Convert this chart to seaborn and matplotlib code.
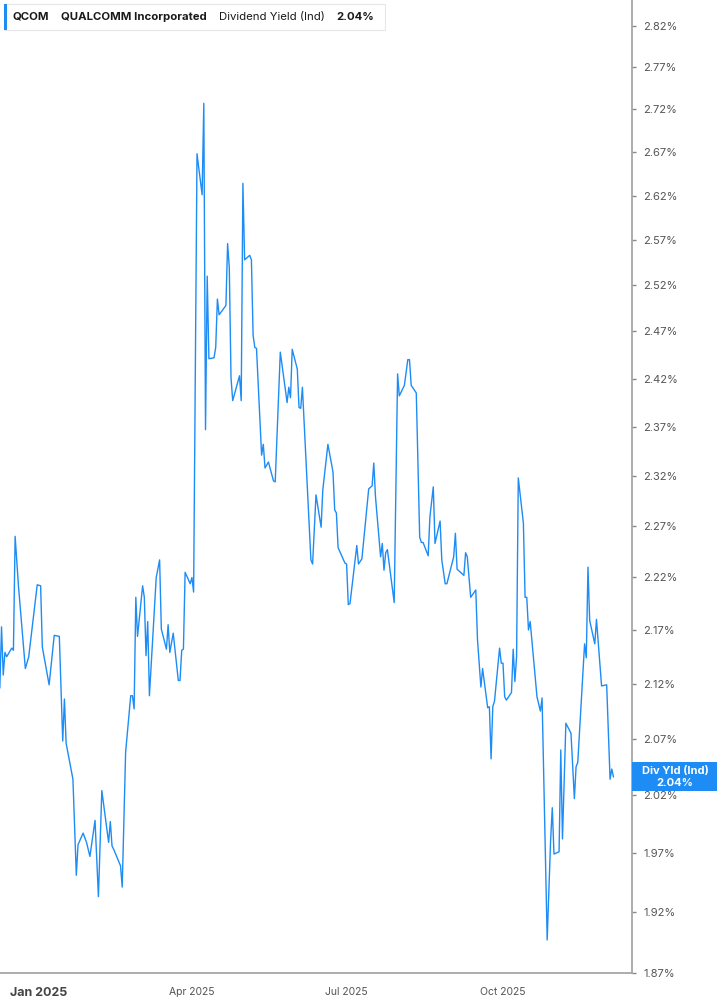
"""
QCOM dividend yield chart - recreated with seaborn / matplotlib.
"""

import matplotlib
matplotlib.use("Agg")
import matplotlib.pyplot as plt
import matplotlib.ticker as mticker
from matplotlib.patches import Rectangle
import pandas as pd
import seaborn as sns

# ---- data ----
DATES = [
    "2024-12-09", "2024-12-10", "2024-12-11", "2024-12-12", "2024-12-13",
    "2024-12-16", "2024-12-17", "2024-12-18", "2024-12-20", "2024-12-24",
    "2024-12-26", "2024-12-31", "2025-01-02", "2025-01-03", "2025-01-07",
    "2025-01-10", "2025-01-13", "2025-01-15", "2025-01-16", "2025-01-17",
    "2025-01-21", "2025-01-23", "2025-01-24", "2025-01-27", "2025-01-29",
    "2025-01-31", "2025-02-03", "2025-02-05", "2025-02-07", "2025-02-11",
    "2025-02-12", "2025-02-13", "2025-02-14", "2025-02-18", "2025-02-19",
    "2025-02-21", "2025-02-24", "2025-02-25", "2025-02-26", "2025-02-27",
    "2025-02-28", "2025-03-03", "2025-03-04", "2025-03-05", "2025-03-06",
    "2025-03-07", "2025-03-11", "2025-03-13", "2025-03-14", "2025-03-17",
    "2025-03-18", "2025-03-19", "2025-03-21", "2025-03-24", "2025-03-25",
    "2025-03-26", "2025-03-27", "2025-03-28", "2025-03-31", "2025-04-01",
    "2025-04-02", "2025-04-04", "2025-04-07", "2025-04-08", "2025-04-09",
    "2025-04-10", "2025-04-11", "2025-04-14", "2025-04-15", "2025-04-16",
    "2025-04-17", "2025-04-21", "2025-04-22", "2025-04-23", "2025-04-24",
    "2025-04-25", "2025-04-29", "2025-04-30", "2025-05-01", "2025-05-02",
    "2025-05-05", "2025-05-06", "2025-05-07", "2025-05-08", "2025-05-09",
    "2025-05-12", "2025-05-13", "2025-05-14", "2025-05-16", "2025-05-19",
    "2025-05-20", "2025-05-23", "2025-05-27", "2025-05-28", "2025-05-29",
    "2025-05-30", "2025-06-02", "2025-06-03", "2025-06-04", "2025-06-05",
    "2025-06-10", "2025-06-11", "2025-06-13", "2025-06-16", "2025-06-17",
    "2025-06-20", "2025-06-23", "2025-06-24", "2025-06-25", "2025-06-26",
    "2025-06-30", "2025-07-01", "2025-07-02", "2025-07-03", "2025-07-07",
    "2025-07-08", "2025-07-10", "2025-07-14", "2025-07-16", "2025-07-17",
    "2025-07-18", "2025-07-21", "2025-07-22", "2025-07-23", "2025-07-24",
    "2025-07-25", "2025-07-29", "2025-07-31", "2025-08-01", "2025-08-04",
    "2025-08-06", "2025-08-07", "2025-08-08", "2025-08-11", "2025-08-13",
    "2025-08-14", "2025-08-15", "2025-08-18", "2025-08-19", "2025-08-21",
    "2025-08-22", "2025-08-25", "2025-08-26", "2025-08-28", "2025-08-29",
    "2025-09-02", "2025-09-03", "2025-09-04", "2025-09-08", "2025-09-09",
    "2025-09-10", "2025-09-12", "2025-09-15", "2025-09-16", "2025-09-18",
    "2025-09-19", "2025-09-22", "2025-09-23", "2025-09-24", "2025-09-25",
    "2025-09-26", "2025-09-29", "2025-09-30", "2025-10-01", "2025-10-02",
    "2025-10-03", "2025-10-06", "2025-10-07", "2025-10-08", "2025-10-09",
    "2025-10-10", "2025-10-13", "2025-10-14", "2025-10-15", "2025-10-16",
    "2025-10-17", "2025-10-21", "2025-10-23", "2025-10-24", "2025-10-27",
    "2025-10-29", "2025-10-30", "2025-10-31", "2025-11-03", "2025-11-04",
    "2025-11-05", "2025-11-07", "2025-11-10", "2025-11-12", "2025-11-13",
    "2025-11-14", "2025-11-18", "2025-11-19", "2025-11-20", "2025-11-21",
    "2025-11-24", "2025-11-25", "2025-11-28", "2025-12-01", "2025-12-03",
    "2025-12-04", "2025-12-05",
]

YIELD_PCT = [
    2.116, 2.173, 2.128, 2.149, 2.145,
    2.153, 2.151, 2.260, 2.211, 2.134,
    2.145, 2.213, 2.212, 2.154, 2.119,
    2.165, 2.164, 2.068, 2.106, 2.066,
    2.034, 1.951, 1.977, 1.987, 1.979,
    1.967, 1.998, 1.933, 2.024, 1.979,
    1.997, 1.976, 1.973, 1.959, 1.941,
    2.058, 2.109, 2.109, 2.097, 2.201,
    2.164, 2.212, 2.201, 2.146, 2.178,
    2.109, 2.220, 2.237, 2.171, 2.152,
    2.175, 2.149, 2.167, 2.123, 2.123,
    2.151, 2.152, 2.225, 2.214, 2.220,
    2.206, 2.668, 2.621, 2.727, 2.367,
    2.530, 2.441, 2.442, 2.453, 2.505,
    2.488, 2.498, 2.566, 2.539, 2.421,
    2.397, 2.423, 2.397, 2.634, 2.548,
    2.553, 2.548, 2.466, 2.453, 2.452,
    2.341, 2.352, 2.328, 2.334, 2.315,
    2.314, 2.448, 2.395, 2.411, 2.400,
    2.451, 2.430, 2.390, 2.389, 2.411,
    2.237, 2.233, 2.301, 2.269, 2.306,
    2.352, 2.324, 2.286, 2.283, 2.249,
    2.234, 2.233, 2.194, 2.195, 2.251,
    2.233, 2.238, 2.307, 2.310, 2.333,
    2.299, 2.240, 2.253, 2.227, 2.244,
    2.247, 2.196, 2.425, 2.402, 2.413,
    2.440, 2.440, 2.413, 2.405, 2.259,
    2.254, 2.254, 2.241, 2.279, 2.309,
    2.253, 2.275, 2.237, 2.214, 2.214,
    2.240, 2.263, 2.228, 2.222, 2.244,
    2.240, 2.201, 2.208, 2.161, 2.117,
    2.134, 2.098, 2.099, 2.052, 2.099,
    2.104, 2.153, 2.139, 2.139, 2.108,
    2.105, 2.112, 2.152, 2.122, 2.145,
    2.318, 2.273, 2.201, 2.201, 2.170,
    2.178, 2.108, 2.095, 2.107, 1.897,
    1.980, 2.009, 1.969, 1.971, 2.060,
    1.982, 2.084, 2.075, 2.017, 2.045,
    2.049, 2.157, 2.144, 2.230, 2.179,
    2.157, 2.180, 2.118, 2.119, 2.034,
    2.043, 2.036,
]

Y_TICKS = [1.87, 1.92, 1.97, 2.02, 2.07, 2.12, 2.17, 2.22, 2.27, 2.32,
           2.37, 2.42, 2.47, 2.52, 2.57, 2.62, 2.67, 2.72, 2.77, 2.82]
X_TICKS = ["2025-01-01", "2025-04-01", "2025-07-01", "2025-10-01"]
X_LABELS = ["Jan 2025", "Apr 2025", "Jul 2025", "Oct 2025"]

TICKER = "QCOM"
COMPANY = "QUALCOMM Incorporated"
METRIC = "Dividend Yield (Ind)"
METRIC_SHORT = "Div Yld (Ind)"

# ---- style ----
BLUE = "#1e8cf5"
AXIS_GREY = "#a6a6a6"
LABEL_GREY = "#555555"
W, H = 717, 1005

sns.set_style("white")
plt.rcParams["font.family"] = ["Inter", "DejaVu Sans"]


def fx(px):
    return px / W


def fy(py):
    # pixel from top -> figure fraction
    return 1 - py / H


fig = plt.figure(figsize=(W / 100, H / 100), dpi=100)
ax = fig.add_axes([0, 32 / H, 632 / W, 973 / H])

df = pd.DataFrame({"date": pd.to_datetime(DATES), "yield": YIELD_PCT})
sns.lineplot(data=df, x="date", y="yield", ax=ax, color=BLUE,
             linewidth=1.0, estimator=None)

# log price-style y axis on the right
ax.set_yscale("log")
ax.set_ylim(1.87, 2.852)
ax.yaxis.set_major_locator(mticker.FixedLocator(Y_TICKS))
ax.yaxis.set_minor_locator(mticker.NullLocator())
ax.yaxis.set_major_formatter(mticker.FuncFormatter(lambda v, _: f"{v:.2f}%"))
ax.yaxis.tick_right()
ax.tick_params(axis="y", which="major", direction="out", length=3, width=1,
               color="#888888", labelsize=8, labelcolor=LABEL_GREY, pad=5)

jan1 = pd.Timestamp("2025-01-01")
ax.set_xlim(jan1 - pd.Timedelta(days=22.9), jan1 + pd.Timedelta(days=348.9))
ax.set_xticks(pd.to_datetime(X_TICKS))
ax.set_xticklabels(X_LABELS)
ax.tick_params(axis="x", direction="out", length=4, width=1, color=AXIS_GREY,
               labelsize=7.5, labelcolor=LABEL_GREY, pad=6)
first = ax.get_xticklabels()[0]
first.set_fontweight("bold")
first.set_fontsize(9)
first.set_color("#444444")

ax.set_xlabel("")
ax.set_ylabel("")
for side in ["left", "top"]:
    ax.spines[side].set_visible(False)
for side in ["right", "bottom"]:
    ax.spines[side].set_color(AXIS_GREY)
    ax.spines[side].set_linewidth(1.3)

# ---- header legend box ----
fig.add_artist(Rectangle((fx(4), fy(30)), fx(381), 26 / H, transform=fig.transFigure,
                         facecolor="white", edgecolor="#e6e6e6", linewidth=0.8))
fig.add_artist(Rectangle((fx(4), fy(30)), fx(2.5), 26 / H, transform=fig.transFigure,
                         facecolor=BLUE, edgecolor="none"))
last_txt = f"{YIELD_PCT[-1]:.2f}%"
head_y = fy(17)
head_size = 8.2
fig.text(fx(13), head_y, TICKER, fontsize=head_size, fontweight="bold", color="#1a1a1a", va="center")
fig.text(fx(61), head_y, COMPANY, fontsize=head_size, fontweight="bold", color="#1a1a1a", va="center")
fig.text(fx(219), head_y, METRIC, fontsize=head_size, color="#1a1a1a", va="center")
fig.text(fx(336), head_y, last_txt, fontsize=head_size, fontweight="bold", color="#1a1a1a", va="center")

# ---- last value tag on the right axis ----
y_disp = ax.get_yaxis_transform().transform((1, YIELD_PCT[-1]))[1]
fig.add_artist(Rectangle((fx(632), (y_disp - 14.5) / H), fx(85), 29 / H,
                         transform=fig.transFigure, facecolor=BLUE, edgecolor="none"))
fig.text(fx(675), (y_disp + 6) / H, METRIC_SHORT, fontsize=8, fontweight="bold",
         color="white", ha="center", va="center")
fig.text(fx(675), (y_disp - 6) / H, last_txt, fontsize=8, fontweight="bold",
         color="white", ha="center", va="center")

fig.savefig("out.png", dpi=100)
plt.close(fig)
